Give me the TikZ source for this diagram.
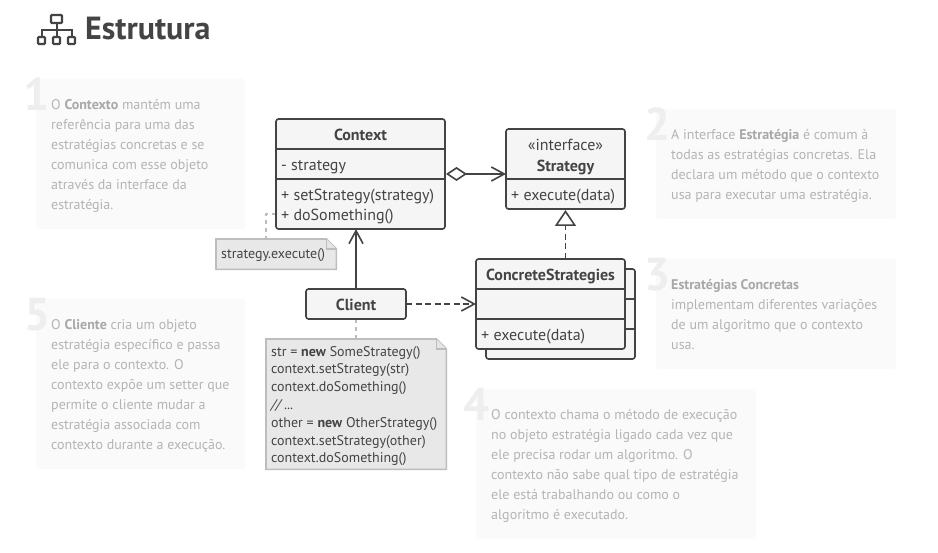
\documentclass[tikz,border=0pt]{standalone}
\usepackage{fontspec}
\setmainfont{PT Sans}
\usetikzlibrary{arrows.meta,calc}
\definecolor{ink}{HTML}{444444}
\definecolor{boxfill}{HTML}{F5F5F5}
\definecolor{notefill}{HTML}{E8E8E8}
\definecolor{noteline}{HTML}{BDBDBD}
\definecolor{panel}{HTML}{FAFAFA}
\definecolor{paneltext}{HTML}{B4B4B4}
\definecolor{panelbold}{HTML}{A8A8A8}
\definecolor{digit}{HTML}{EEEEEE}
\tikzset{
  x=1pt,y=-1pt,
  umlbox/.style={draw=ink,line width=1.6pt,fill=boxfill,rounded corners=2.5pt,inner sep=0pt,outer sep=0pt,text=ink},
  compartment/.style={draw=ink,line width=1.6pt},
  umltext/.style={font=\fontsize{16}{18}\selectfont,text=ink,inner sep=0pt,anchor=base west},
  umltitle/.style={font=\fontsize{16}{18}\selectfont\bfseries,text=ink,inner sep=0pt,anchor=base},
  legend/.style={fill=panel,draw=none,rounded corners=3pt,inner sep=0pt,outer sep=0pt},
  legendtext/.style={font=\fontsize{14}{20}\selectfont,text=paneltext,align=left,anchor=north west,inner sep=0pt},
  legendnum/.style={font=\fontsize{46}{46}\selectfont\bfseries,text=digit,inner sep=0pt,anchor=base},
  notebox/.style={fill=notefill,draw=noteline,line width=1.6pt},
  notetext/.style={font=\fontsize{14}{17.8}\selectfont,text=ink,align=left,anchor=north west,inner sep=0pt},
  assoc/.style={draw=ink,line width=1.6pt},
  noteline/.style={draw=noteline,line width=1.4pt,dash pattern=on 4pt off 4pt},
  icon/.style={draw=ink,line width=2.4pt,rounded corners=1pt},
  barb/.style={-{Straight Barb[length=13pt,width=14pt,line width=1.6pt]}},
}
\newcommand{\pbf}[1]{\textcolor{panelbold}{\textbf{#1}}}
\begin{document}
\begin{tikzpicture}
\useasboundingbox (0,0) rectangle (938,553);
\fill[white] (0,0) rectangle (938,553);

% title
\draw[icon] (51,15) rectangle (62,23);
\draw[icon] (38,37) rectangle (45,44);
\draw[icon] (53,37) rectangle (60,44);
\draw[icon] (68,37) rectangle (75,44);
\draw[draw=ink,line width=2pt] (56.5,23) -- (56.5,37) (41.5,37) -- (41.5,30) -- (71.5,30) -- (71.5,37);
\node[font=\fontsize{32}{34}\selectfont\bfseries,text=ink,inner sep=0pt,anchor=base west] (title) at (85,40) {Estrutura};

% legend panels
\node[legend,minimum width=209pt,minimum height=150pt,anchor=north west] (p1) at (36,79) {};
\node[legend,minimum width=240pt,minimum height=110pt,anchor=north west] (p2) at (656,109) {};
\node[legend,minimum width=240pt,minimum height=110pt,anchor=north west] (p3) at (656,259) {};
\node[legend,minimum width=280pt,minimum height=150pt,anchor=north west] (p4) at (476,389) {};
\node[legend,minimum width=209pt,minimum height=170pt,anchor=north west] (p5) at (36,299) {};

\node[legendnum] (n1) at (37,111) {1};
\node[legendnum] (n2) at (657.5,141) {2};
\node[legendnum] (n3) at (657.5,291) {3};
\node[legendnum] (n4) at (477,421) {4};
\node[legendnum] (n5) at (37.5,331) {5};

\node[legendtext] (t1) at (51,99.5) {O \pbf{Contexto} mantém uma\\referência para uma das\\estratégias concretas e se\\comunica com esse objeto\\através da interface da\\estratégia.};
\node[legendtext] (t2) at (671,129.5) {A interface \pbf{Estratégia} é comum à\\todas as estratégias concretas. Ela\\declara um método que o contexto\\usa para executar uma estratégia.};
\node[legendtext] (t3) at (671,279.5) {\pbf{Estratégias Concretas}\\implementam diferentes variações\\de um algoritmo que o contexto\\usa.};
\node[legendtext] (t4) at (491,409.5) {O contexto chama o método de execução\\no objeto estratégia ligado cada vez que\\ele precisa rodar um algoritmo. O\\contexto não sabe qual tipo de estratégia\\ele está trabalhando ou como o\\algoritmo é executado.};
\node[legendtext] (t5) at (51,319.5) {O \pbf{Cliente} cria um objeto\\estratégia específico e passa\\ele para o contexto. O\\contexto expõe um setter que\\permite o cliente mudar a\\estratégia associada com\\contexto durante a execução.};

% note connectors (under the notes)
\coordinate (ctxnote) at (276,214);
\coordinate (elbow) at (266,214);
\coordinate (n1top) at (266,239);
\coordinate (cltbot) at (356,319);
\coordinate (n2top) at (356,339);
\draw[noteline] (ctxnote) -- (elbow) -- (n1top);
\draw[noteline] (cltbot) -- (n2top);

% notes
\node[inner sep=0pt,minimum width=120pt,minimum height=30pt,anchor=north west] (note1) at (216,239) {};
\draw[notebox] (note1.north west) -- ($(note1.north east)+(-10,0)$) -- ($(note1.north east)+(0,10)$) -- (note1.south east) -- (note1.south west) -- cycle;
\draw[draw=noteline,line width=1.2pt,fill=white!60!noteline] ($(note1.north east)+(-10,0)$) -- ++(0,10) -- ++(10,0);
\node[font=\fontsize{14}{18}\selectfont,text=ink,inner sep=0pt,anchor=base west] (note1t) at (221,259) {strategy.execute()};

\node[inner sep=0pt,minimum width=180pt,minimum height=130pt,anchor=north west] (note2) at (266,339) {};
\draw[notebox] (note2.north west) -- ($(note2.north east)+(-10,0)$) -- ($(note2.north east)+(0,10)$) -- (note2.south east) -- (note2.south west) -- cycle;
\draw[draw=noteline,line width=1.2pt,fill=white!60!noteline] ($(note2.north east)+(-10,0)$) -- ++(0,10) -- ++(10,0);
\node[notetext] (note2t) at (271,346) {str = \textbf{new} SomeStrategy()\\context.setStrategy(str)\\context.doSomething()\\\textit{// ...}\\other = \textbf{new} OtherStrategy()\\context.setStrategy(other)\\context.doSomething()};

% Concrete strategies back sheets
\node[umlbox,minimum width=149pt,minimum height=90pt,anchor=north west] (cs2) at (486,269) {};
\draw[compartment] (625,299) -- (635,299) (625,329) -- (635,329);

% Context
\node[umlbox,minimum width=169pt,minimum height=110pt,anchor=north west] (context) at (276,119) {};
\draw[compartment] (context.west |- 0,149) -- (context.east |- 0,149);
\draw[compartment] (context.west |- 0,179) -- (context.east |- 0,179);
\node[umltitle] (ct) at (360.5,140.5) {Context};
\node[umltext] (c1) at (281,170.5) {- strategy};
\node[umltext] (c2) at (281,200.5) {+ setStrategy(strategy)};
\node[umltext] (c3) at (281,220.5) {+ doSomething()};

% Strategy
\node[umlbox,minimum width=119pt,minimum height=80pt,anchor=north west] (strategy) at (506,129) {};
\draw[compartment] (strategy.west |- 0,179) -- (strategy.east |- 0,179);
\node[font=\fontsize{16}{18}\selectfont,text=ink,inner sep=0pt,anchor=base] (s0) at (565.5,150.5) {«interface»};
\node[umltitle] (s1) at (565.5,171.5) {Strategy};
\node[umltext] (s2) at (511,200.5) {+ execute(data)};

% ConcreteStrategies
\node[umlbox,minimum width=149pt,minimum height=90pt,anchor=north west] (concrete) at (476,259) {};
\draw[compartment] (concrete.west |- 0,289) -- (concrete.east |- 0,289);
\draw[compartment] (concrete.west |- 0,319) -- (concrete.east |- 0,319);
\node[umltitle] (cc) at (550.5,280.5) {ConcreteStrategies};
\node[umltext] (cc1) at (481,340.5) {+ execute(data)};

% Client
\node[umlbox,minimum width=100pt,minimum height=30pt,anchor=north west] (client) at (306,289) {};
\node[umltitle] (cl) at (356,310.5) {Client};

% connectors
\draw[assoc,{Diamond[open,length=21pt,width=14pt,line width=1.6pt,fill=white]}-{Straight Barb[length=13pt,width=14pt,line width=1.6pt]}] ($(context.east |- 0,174)+(1,0)$) -- (strategy.west |- 0,174);
\draw[assoc,dash pattern=on 6pt off 3.5pt,-{Triangle[open,length=16pt,width=21pt,line width=1.6pt,fill=white]}] (concrete.north -| 565.5,0) -- ($(strategy.south -| 565.5,0)+(0,1)$);
\draw[assoc,barb] (client.north) -- (context.south -| client.north);
\draw[assoc,dash pattern=on 6pt off 3.5pt,barb] (client.east) -- (concrete.west |- client.east);
\end{tikzpicture}
\end{document}
